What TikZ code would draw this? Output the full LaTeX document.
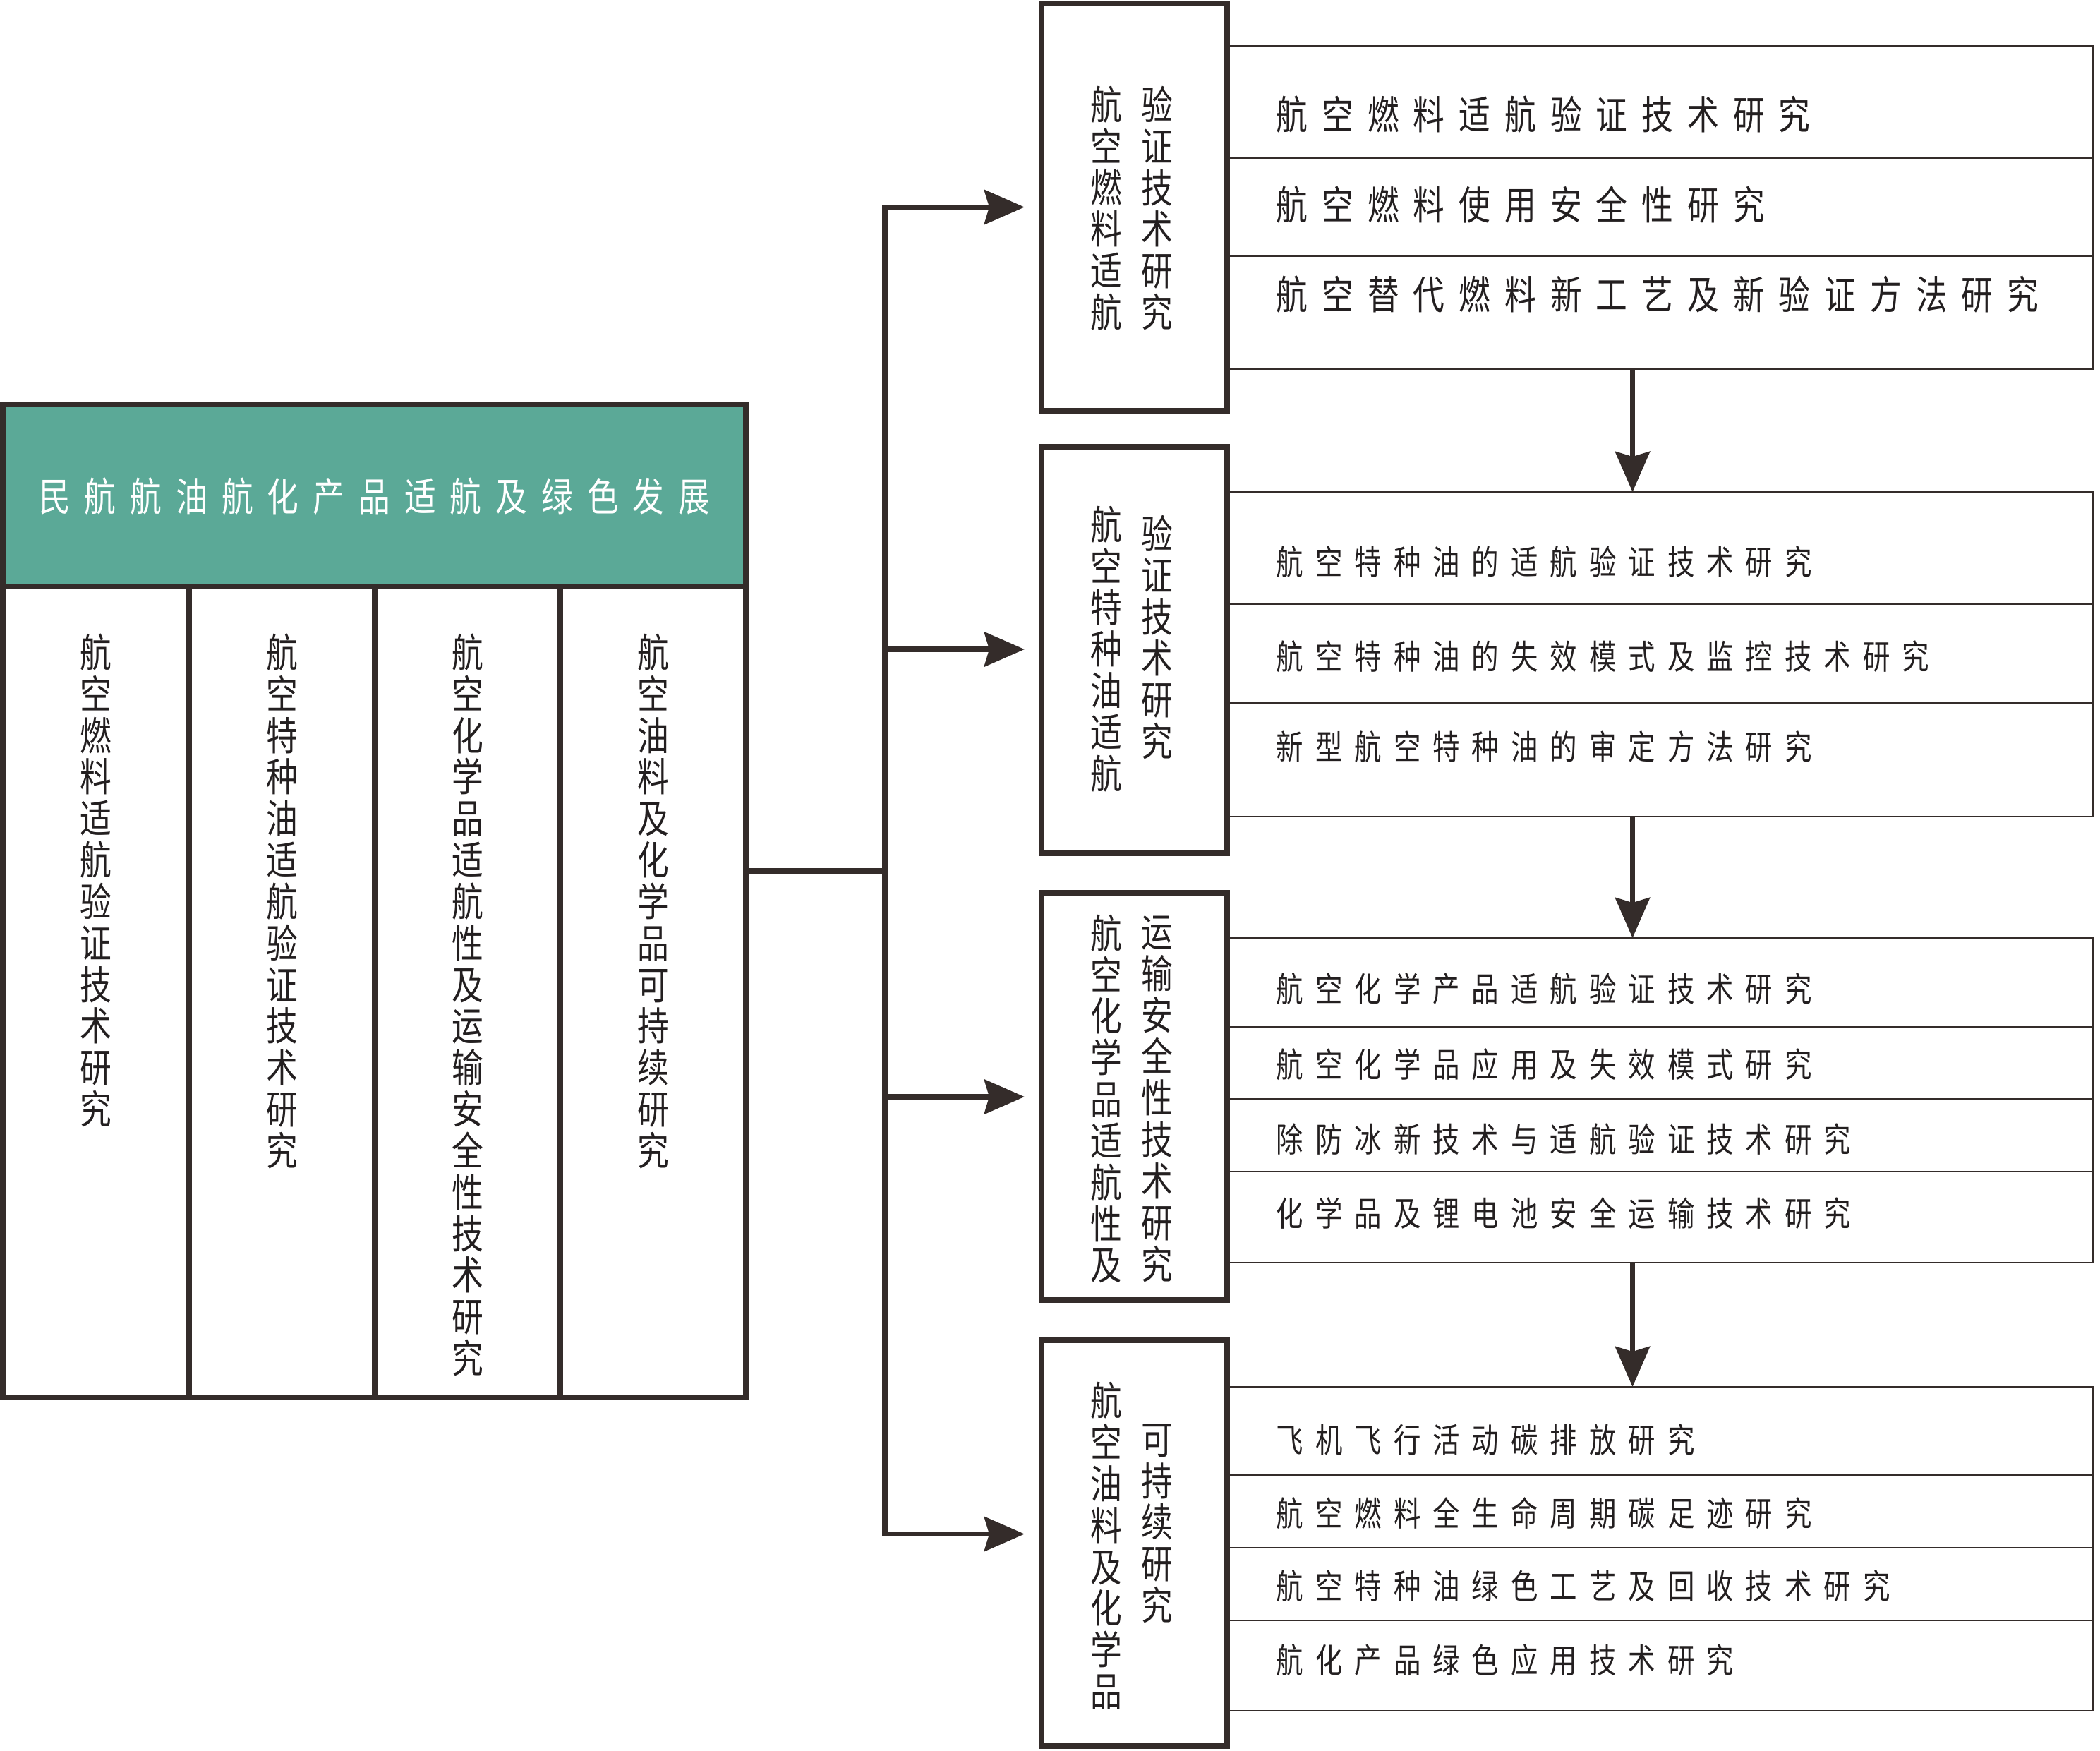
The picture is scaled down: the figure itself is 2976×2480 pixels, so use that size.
\documentclass[tikz,border=0pt]{standalone}
\usepackage{fontspec}
\setmainfont{Noto Sans CJK SC}[FakeStretch=0.8]
\usetikzlibrary{arrows.meta}
\definecolor{ln}{RGB}{52,44,42}
\definecolor{hdr}{RGB}{91,169,151}
\definecolor{tx}{RGB}{35,31,32}
\def\spcgap{0.2cm}
\newcommand\spc[1]{\spcA#1\relax}
\def\spcA#1{\ifx#1\relax\else#1\expandafter\spcB\fi}
\def\spcB#1{\ifx#1\relax\else\hspace{\spcgap}#1\expandafter\spcB\fi}
\tikzset{
  fnt/.style={font=\fontsize{15.9pt}{16.73pt}\selectfont},
  fnts/.style={font=\fontsize{13.66pt}{16pt}\selectfont},
  thickbox/.style={draw=ln, line width=2.3pt, inner sep=0pt, outer sep=0pt},
  rowbox/.style={draw=ln, line width=0.75pt, inner sep=0pt, outer sep=0pt, minimum width=12.27cm},
  vtext/.style={fnt, align=center, inner sep=0pt, text=tx},
  rtext/.style={fnt, anchor=west, inner sep=0pt, text=tx, execute at begin node={\def\spcgap{0.2cm}}},
  rtexts/.style={fnts, anchor=west, inner sep=0pt, text=tx, execute at begin node={\def\spcgap{0.17cm}}},
  conn/.style={draw=ln, line width=2.15pt},
  arr/.style={conn, -{Stealth[length=16.2pt, width=13.9pt, inset=2pt]}},
}
\begin{document}
\begin{tikzpicture}[x=0.01cm, y=-0.01cm]
\useasboundingbox (0,0) rectangle (2976,2480);
\fill[white] (0,0) rectangle (2976,2480);

% ---- left block ----
\node[thickbox, fill=hdr, minimum width=10.525cm, minimum height=2.58cm] (hdr) at (530.75,702) {};
\node[fnt, text=white, inner sep=0pt] (hdrt) at (530.75,703) {\spc{民航航油航化产品适航及绿色发展}};
\node[thickbox, minimum width=2.635cm, minimum height=11.49cm] (c1) at (136.25,1405.5) {};
\node[thickbox, minimum width=2.63cm, minimum height=11.49cm] (c2) at (399.5,1405.5) {};
\node[thickbox, minimum width=2.63cm, minimum height=11.49cm] (c3) at (662.5,1405.5) {};
\node[thickbox, minimum width=2.63cm, minimum height=11.49cm] (c4) at (925.5,1405.5) {};
\node[vtext] (c1t) at (136.25,1247.4) {航\\空\\燃\\料\\适\\航\\验\\证\\技\\术\\研\\究};
\node[vtext] (c2t) at (399.5,1276.8) {航\\空\\特\\种\\油\\适\\航\\验\\证\\技\\术\\研\\究};
\node[vtext] (c3t) at (662.5,1423.8) {航\\空\\化\\学\\品\\适\\航\\性\\及\\运\\输\\安\\全\\性\\技\\术\\研\\究};
\node[vtext] (c4t) at (925.5,1276.8) {航\\空\\油\\料\\及\\化\\学\\品\\可\\持\\续\\研\\究};

% ---- row items ----
\node[rowbox, minimum height=1.59cm] (r11) at (2352.5,144.5) {};
\node[rowbox, minimum height=1.39cm] (r12) at (2352.5,293.5) {};
\node[rowbox, minimum height=1.60cm] (r13) at (2352.5,443) {};
\node[rowbox, minimum height=1.59cm] (r21) at (2352.5,776.5) {};
\node[rowbox, minimum height=1.40cm] (r22) at (2352.5,926) {};
\node[rowbox, minimum height=1.61cm] (r23) at (2352.5,1076.5) {};
\node[rowbox, minimum height=1.26cm] (r31) at (2352.5,1392) {};
\node[rowbox, minimum height=1.02cm] (r32) at (2352.5,1506) {};
\node[rowbox, minimum height=1.03cm] (r33) at (2352.5,1608.5) {};
\node[rowbox, minimum height=1.29cm] (r34) at (2352.5,1724.5) {};
\node[rowbox, minimum height=1.25cm] (r41) at (2352.5,2027.5) {};
\node[rowbox, minimum height=1.03cm] (r42) at (2352.5,2141.5) {};
\node[rowbox, minimum height=1.03cm] (r43) at (2352.5,2244.5) {};
\node[rowbox, minimum height=1.28cm] (r44) at (2352.5,2360) {};

\node[rtext] (t11) at (1808,162) {\spc{航空燃料适航验证技术研究}};
\node[rtext] (t12) at (1808,290) {\spc{航空燃料使用安全性研究}};
\node[rtext] (t13) at (1808,417) {\spc{航空替代燃料新工艺及新验证方法研究}};
\node[rtexts] (t21) at (1808,796) {\spc{航空特种油的适航验证技术研究}};
\node[rtexts] (t22) at (1808,930) {\spc{航空特种油的失效模式及监控技术研究}};
\node[rtexts] (t23) at (1808,1058) {\spc{新型航空特种油的审定方法研究}};
\node[rtexts] (t31) at (1808,1401) {\spc{航空化学产品适航验证技术研究}};
\node[rtexts] (t32) at (1808,1508) {\spc{航空化学品应用及失效模式研究}};
\node[rtexts] (t33) at (1808,1614) {\spc{除防冰新技术与适航验证技术研究}};
\node[rtexts] (t34) at (1808,1719) {\spc{化学品及锂电池安全运输技术研究}};
\node[rtexts] (t41) at (1808,2040) {\spc{飞机飞行活动碳排放研究}};
\node[rtexts] (t42) at (1808,2144) {\spc{航空燃料全生命周期碳足迹研究}};
\node[rtexts] (t43) at (1808,2247) {\spc{航空特种油绿色工艺及回收技术研究}};
\node[rtexts] (t44) at (1808,2352) {\spc{航化产品绿色应用技术研究}};

% ---- category boxes ----
\node[thickbox, minimum width=2.63cm, minimum height=5.77cm] (b1) at (1607.5,293.5) {};
\node[thickbox, minimum width=2.63cm, minimum height=5.76cm] (b2) at (1607.5,921) {};
\node[thickbox, minimum width=2.63cm, minimum height=5.77cm] (b3) at (1607.5,1553.5) {};
\node[thickbox, minimum width=2.63cm, minimum height=5.75cm] (b4) at (1607.5,2186.5) {};
\node[vtext] (b1l) at (1568,295) {航\\空\\燃\\料\\适\\航};
\node[vtext] (b1r) at (1640,295) {验\\证\\技\\术\\研\\究};
\node[vtext] (b2l) at (1568,919.4) {航\\空\\特\\种\\油\\适\\航};
\node[vtext] (b2r) at (1640,903) {验\\证\\技\\术\\研\\究};
\node[vtext] (b3l) at (1568,1557) {航\\空\\化\\学\\品\\适\\航\\性\\及};
\node[vtext] (b3r) at (1640,1557) {运\\输\\安\\全\\性\\技\\术\\研\\究};
\node[vtext] (b4l) at (1568,2190) {航\\空\\油\\料\\及\\化\\学\\品};
\node[vtext] (b4r) at (1640,2158.6) {可\\持\\续\\研\\究};

% ---- connectors ----
\coordinate (j0) at (1254,1234);
\coordinate (j1) at (1254,293.5);
\coordinate (j2) at (1254,920);
\coordinate (j3) at (1254,1554);
\coordinate (j4) at (1254,2173.5);
\coordinate (ax) at (2313.5,0);
\draw[conn] (c4.east |- j0) -- (j0);
\draw[conn, line cap=rect] (j1) -- (j4);
\draw[arr, shorten >=0.24cm] (j1) -- (j1 -| b1.west);
\draw[arr, shorten >=0.24cm] (j2) -- (j2 -| b2.west);
\draw[arr, shorten >=0.24cm] (j3) -- (j3 -| b3.west);
\draw[arr, shorten >=0.24cm] (j4) -- (j4 -| b4.west);
\draw[arr] (r13.south -| ax) -- (r21.north -| ax);
\draw[arr] (r23.south -| ax) -- (r31.north -| ax);
\draw[arr] (r34.south -| ax) -- (r41.north -| ax);
\end{tikzpicture}
\end{document}
